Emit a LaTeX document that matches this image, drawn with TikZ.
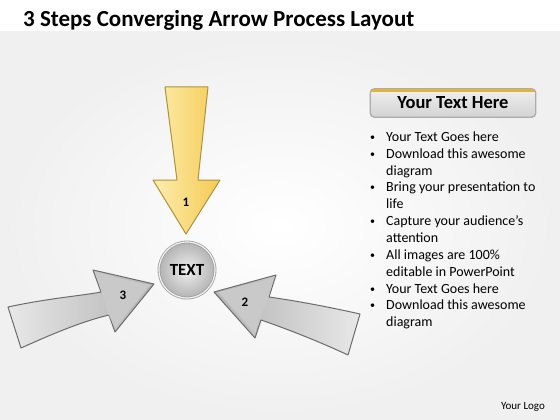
\documentclass[tikz,border=0pt]{standalone}
\usepackage{fontspec}
\setmainfont{Carlito}
\usepackage{tikz}

\definecolor{goldlight}{HTML}{FDEDB0}
\definecolor{goldfill}{HTML}{F5CB52}
\definecolor{goldline}{HTML}{B0923A}
\definecolor{headgold}{HTML}{E0B43C}
\definecolor{edgegray}{HTML}{6C6C6C}

\begin{document}
\begin{tikzpicture}[x=1pt,y=-1pt]
        \useasboundingbox (0,0) rectangle (560,420);
        \fill[white] (0,0) rectangle (560,420);
        \shade[inner color=white,outer color=gray!12] (0,32) rectangle (560,420);

        % title and logo
        \node[anchor=base west,inner sep=0pt,font=\bfseries\fontsize{23}{27}\selectfont] (title) at (23,27) {3 Steps Converging Arrow Process Layout};
        \node[font=\fontsize{11}{13}\selectfont] (logo) at (523,407) {Your Logo};

        % step 1 (yellow)
        \draw[draw=goldline,line width=1pt,line join=round,left color=goldlight,right color=goldfill]
            (165,87) -- (208,87) -- (198,180) -- (220,180) -- (186,234) -- (153,180) -- (177,180) -- cycle;

        % step 3 (left)
        \draw[draw=edgegray,line width=1pt,line join=round,left color=gray!18,right color=gray!60]
            (8,307) .. controls (50,298) and (80,296) .. (101,292) -- (93,270) -- (154,284)
            -- (115,332) -- (109,315) .. controls (80,322) and (50,335) .. (21,348) -- cycle;
        \fill[gray!42] (102,293) -- (95,273) -- (150,285) -- (115,328) -- (108,313) -- cycle;

        % step 2 (right)
        \draw[draw=edgegray,line width=1pt,line join=round,left color=gray!60,right color=gray!18]
            (360,314) .. controls (320,305) and (290,300) .. (269,297) -- (276,275) -- (214,292)
            -- (255,338) -- (261,320) .. controls (290,330) and (320,342) .. (348,355) -- cycle;
        \fill[gray!42] (268,298) -- (274,278) -- (218,292) -- (255,333) -- (260,319) -- cycle;

        % hub and numbers
        \begin{scope}[every node/.style={font=\bfseries\fontsize{13}{15}\selectfont}]
        \node (n1) at (186,202) {1};
        \node (n2) at (245,302) {2};
        \node (n3) at (123,295) {3};
        \end{scope}
        \node[circle,minimum size=56pt,inner color=gray!12,outer color=gray!60,draw=gray!75,
              double=gray!10,double distance=1.2pt,line width=0.8pt,
              font=\bfseries\fontsize{17}{20}\selectfont] (hub) at (187,270) {TEXT};

        % header box
        \node[rectangle,rounded corners=4pt,minimum width=165pt,minimum height=28pt,
              top color=gray!12,bottom color=gray!35,draw=gray!65,line width=0.8pt,
              font=\bfseries\fontsize{18.5}{22}\selectfont] (head) at (453,103) {Your Text Here};
        \begin{scope}
        \clip[rounded corners=4pt] (head.south west) rectangle (head.north east);
        \fill[headgold] (head.north west) rectangle ([yshift=-3.5pt]head.north east);
        \end{scope}
        \draw[gray!65,line width=0.8pt,rounded corners=4pt] (head.south west) rectangle (head.north east);

        % bullet list
        \begin{scope}[every node/.style={anchor=base west,inner sep=0pt,font=\fontsize{14}{16}\selectfont}]
        \foreach \txt [count=\i] in {Your Text Goes here,Download this awesome,diagram,
              Bring your presentation to,life,Capture your audience’s,attention,
              All images are 100\%,editable in PowerPoint,Your Text Goes here,
              Download this awesome,diagram}
            \node (line\i) at (386,{124.5+16.85*\i}) {\txt};
        \end{scope}
        \foreach \i in {1,2,4,6,8,10,11}
            \node[anchor=base west,inner sep=0pt,font=\fontsize{10}{12}\selectfont] (dot\i) at (370,{123.5+16.85*\i}) {•};
\end{tikzpicture}
\end{document}
